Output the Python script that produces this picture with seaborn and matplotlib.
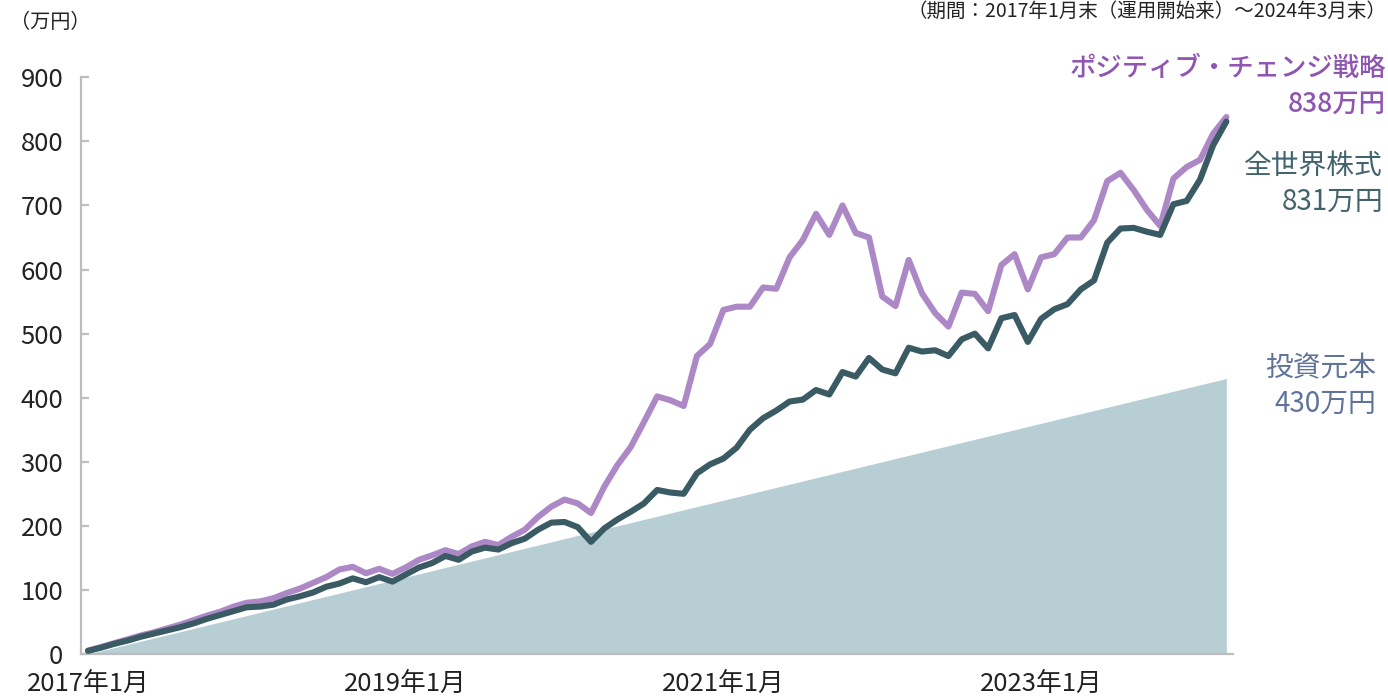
import numpy as np
import pandas as pd
import matplotlib
matplotlib.use("Agg")
import matplotlib.pyplot as plt
import seaborn as sns

# ---------------- data (万円, monthly from 2017年1月末 to 2024年3月末) ----------------
world_equity = [5, 10, 16, 21, 27, 32, 37, 42, 48, 55, 61, 67,
                73, 74, 77, 85, 90, 96, 105, 110, 118, 112, 120, 113,
                124, 135, 142, 153, 147, 160, 166, 163, 173, 180, 194, 205,
                206, 198, 175, 196, 210, 222, 235, 256, 252, 250, 282, 296,
                305, 322, 350, 368, 380, 394, 397, 412, 405, 440, 433, 462,
                444, 438, 478, 472, 474, 465, 491, 500, 477, 524, 529, 487,
                523, 538, 546, 569, 583, 642, 664, 665, 659, 654, 702, 707,
                740, 794, 831]
positive_change = [5, 11, 17, 23, 29, 34, 40, 46, 53, 60, 66, 74,
                   80, 82, 87, 95, 102, 111, 120, 132, 136, 126, 133, 125,
                   135, 147, 154, 162, 156, 168, 175, 170, 183, 194, 214, 230,
                   241, 235, 220, 261, 295, 323, 362, 402, 396, 387, 465, 484,
                   537, 542, 542, 572, 570, 619, 646, 687, 654, 700, 657, 650,
                   558, 543, 615, 563, 532, 511, 564, 562, 535, 607, 624, 569,
                   619, 624, 650, 650, 677, 738, 751, 724, 693, 668, 742, 760,
                   771, 812, 838]
principal = [0, 5, 10, 15, 20, 25, 30, 35, 40, 45, 50, 55,
             60, 65, 70, 75, 80, 85, 90, 95, 100, 105, 110, 115,
             120, 125, 130, 135, 140, 145, 150, 155, 160, 165, 170, 175,
             180, 185, 190, 195, 200, 205, 210, 215, 220, 225, 230, 235,
             240, 245, 250, 255, 260, 265, 270, 275, 280, 285, 290, 295,
             300, 305, 310, 315, 320, 325, 330, 335, 340, 345, 350, 355,
             360, 365, 370, 375, 380, 385, 390, 395, 400, 405, 410, 415,
             420, 425, 430]
month_index = list(range(len(principal)))
xtick_labels = ["2017年1月", "2019年1月", "2021年1月", "2023年1月"]
xtick_positions = [0, 24, 48, 72]
xtick_marks = [23.5, 47.5, 71.5]
ytick_values = [0, 100, 200, 300, 400, 500, 600, 700, 800, 900]

df = pd.DataFrame({"m": month_index, "world": world_equity,
                   "pc": positive_change, "principal": principal})

# ---------------- style ----------------
sns.set_theme(style="white")
plt.rcParams["font.family"] = ["Noto Sans CJK JP", "DejaVu Sans"]

PURPLE = "#AD88C6"
PURPLE_TXT = "#8F55B2"
DARK = "#3A5B63"
DARK_TXT = "#41636B"
AREA = "#B7CED4"
GRAY_TXT = "#60749A"
AXIS = "#BDBDBD"

fig = plt.figure(figsize=(13.88, 7.0), dpi=100)
ax = fig.add_axes([81.4 / 1388, 46 / 700, (1233 - 81.4) / 1388, (654 - 77.3) / 700])

ax.fill_between(df["m"], 0, df["principal"], color=AREA, linewidth=0, zorder=1)
sns.lineplot(data=df, x="m", y="pc", ax=ax, color=PURPLE, linewidth=4.4,
             solid_capstyle="round", solid_joinstyle="round", zorder=3)
sns.lineplot(data=df, x="m", y="world", ax=ax, color=DARK, linewidth=4.4,
             solid_capstyle="round", solid_joinstyle="round", zorder=4)

ax.set_xlim(-0.5, 86.5)
ax.set_ylim(0, 900)
ax.set_xlabel("")
ax.set_ylabel("")

for s in ["top", "right"]:
    ax.spines[s].set_visible(False)
for s in ["left", "bottom"]:
    ax.spines[s].set_color(AXIS)
    ax.spines[s].set_linewidth(1.6)

ax.set_yticks(ytick_values)
ax.set_yticklabels([str(v) for v in ytick_values])
ax.tick_params(axis="y", direction="in", length=6, width=1.6, color=AXIS,
               labelsize=18.5, labelcolor="#222222", pad=13, left=True)

ax.set_xticks(xtick_positions)
ax.set_xticklabels(xtick_labels)
ax.tick_params(axis="x", which="major", length=0, labelsize=18.5,
               labelcolor="#222222", pad=12)
ax.set_xticks(xtick_marks, minor=True)
ax.tick_params(axis="x", which="minor", direction="in", length=6, width=1.6,
               color=AXIS, bottom=True)
ax.grid(False)

# ---------------- texts ----------------
fig.text(10 / 1388, 1 - 22 / 700, "（万円）", fontsize=14.5, color="#222222",
         ha="left", va="center")
fig.text(1386 / 1388, 1 - 1 / 700, "（期間：2017年1月末（運用開始来）～2024年3月末）",
         fontsize=14, color="#222222", ha="right", va="top")

fig.text(1386 / 1388, 1 - 68 / 700, "ポジティブ・チェンジ戦略", fontsize=19,
         color=PURPLE_TXT, ha="right", va="center", fontweight="medium")
fig.text(1386 / 1388, 1 - 104 / 700, "838万円", fontsize=19,
         color=PURPLE_TXT, ha="right", va="center", fontweight="medium")
fig.text(1383 / 1388, 1 - 166 / 700, "全世界株式", fontsize=20,
         color=DARK_TXT, ha="right", va="center")
fig.text(1383 / 1388, 1 - 202 / 700, "831万円", fontsize=20,
         color=DARK_TXT, ha="right", va="center")
fig.text(1376 / 1388, 1 - 368 / 700, "投資元本", fontsize=20,
         color=GRAY_TXT, ha="right", va="center")
fig.text(1376 / 1388, 1 - 404 / 700, "430万円", fontsize=20,
         color=GRAY_TXT, ha="right", va="center")

fig.savefig("out.png", dpi=100, facecolor="white")
